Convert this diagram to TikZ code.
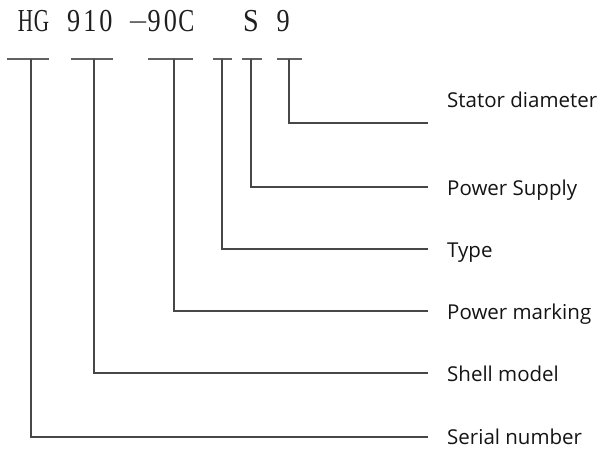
\documentclass[tikz,border=0pt]{standalone}
\usepackage{fontspec}
\setmainfont{Liberation Serif}
\newfontfamily\labfont{Open Sans}
\begin{document}
\begin{tikzpicture}[x=1pt,y=1pt,
  conn/.style={draw=black!72, line width=1.2pt},
  barline/.style={draw=black!62, line width=1.2pt},
  lab/.style={anchor=base west, inner sep=0pt, font=\labfont\fontsize{20.5}{24}\selectfont, text=black!92},
  code/.style={anchor=base, inner sep=0pt, font=\fontsize{32}{32}\selectfont, text=black!88}]
\useasboundingbox (0,0) rectangle (602,-448);
% code characters (monospaced cells)
\foreach \i/\c/\s in {0/H/0.66, 1/G/0.66, 3/9/0.82, 4/1/0.82, 5/0/0.82, 8/9/0.82, 9/0/0.82, 10/C/0.75, 14/S/0.88, 16/9/0.82}
  \node[code] (t\i) at ({25.5+16.1*\i}, -31.5) {\scalebox{\s}[1]{\c}};
\node[code] (t7) at ({25.5+16.1*7}, -31.5) {\raisebox{3.5pt}{\scalebox{1.0}[0.8]{–}}};
% labels
\node[lab] (l1) at (447,-107) {Stator diameter};
\node[lab] (l2) at (447,-195) {Power Supply};
\node[lab] (l3) at (447,-257) {Type};
\node[lab] (l4) at (447,-319) {Power marking};
\node[lab] (l5) at (447,-381) {Shell model};
\node[lab] (l6) at (447,-444) {Serial number};
% bars and stems
\foreach \k/\a/\b/\s/\y in {1/277/302/289/123, 2/242/262/251/187, 3/213/232/222/249, 4/148/193/174/311, 5/71/113/94/373, 6/7/49/31/437} {
  \coordinate (ba\k) at (\a,-59);
  \coordinate (bb\k) at (\b,-59);
  \coordinate (st\k) at (\s,-59);
  \coordinate (en\k) at (428,-\y);
  \draw[barline] (ba\k) -- (bb\k);
  \draw[conn] (st\k) |- (en\k);
}
\end{tikzpicture}
\end{document}
